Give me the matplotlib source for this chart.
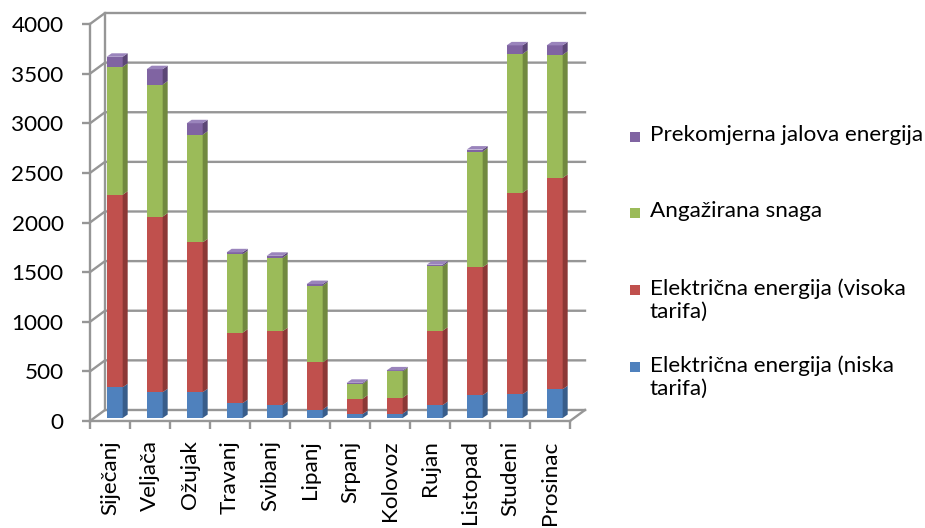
import numpy as np
import matplotlib
matplotlib.use('Agg')
import matplotlib.pyplot as plt
from matplotlib.patches import Polygon, Rectangle

plt.rcParams['font.family'] = ['Lato', 'DejaVu Sans']

months = ['Siječanj', 'Veljača', 'Ožujak', 'Travanj', 'Svibanj', 'Lipanj',
          'Srpanj', 'Kolovoz', 'Rujan', 'Listopad', 'Studeni', 'Prosinac']
niska = [310, 260, 260, 150, 130, 85, 40, 45, 130, 230, 240, 290]
visoka = [1940, 1770, 1510, 710, 745, 475, 155, 160, 750, 1290, 2030, 2130]
snaga = [1290, 1330, 1085, 790, 740, 775, 150, 265, 650, 1165, 1400, 1240]
jalova = [100, 155, 115, 20, 20, 15, 10, 10, 15, 20, 85, 95]

series = [
    ('Električna energija (niska\ntarifa)', niska, '#4F81BD', '#385D8A', '#6F9BD1'),
    ('Električna energija (visoka\ntarifa)', visoka, '#C0504D', '#8C3836', '#D07572'),
    ('Angažirana snaga', snaga, '#9BBB59', '#71893F', '#B3CD7E'),
    ('Prekomjerna jalova energija', jalova, '#8064A2', '#5C4776', '#9A84BC'),
]
yticks = np.arange(0, 4001, 500)

# oblique depth of the chart box and of each column (data units)
DX, DY = 0.375, 111
BAR_W, BAR_OX, BAR_Y0 = 0.4, 0.117, 30
BDX, BDY = 0.125, 35
grid_c = '#969696'
FS = 16.2

fig = plt.figure(figsize=(9.25, 5.28), dpi=100)
ax = fig.add_axes([90 / 925, 107 / 528, 495 / 925, 408 / 528])
n = len(months)
ax.set_xlim(-0.5, n - 0.5 + DX)
ax.set_ylim(0, 4000 + DY)

# back wall, left wall and floor lines
for v in yticks:
    ax.plot([-0.5, -0.5 + DX, n - 0.5 + DX], [v, v + DY, v + DY],
            color=grid_c, lw=1.7, zorder=1, clip_on=False)
ax.plot([-0.5 + DX, -0.5 + DX], [DY, 4000 + DY], color=grid_c, lw=1.7, zorder=1, clip_on=False)
ax.plot([n - 0.5, n - 0.5 + DX], [0, DY], color=grid_c, lw=1.7, zorder=1, clip_on=False)

# stacked 3d-looking columns
x = np.arange(n)
bottoms = np.zeros(n)
for k, (name, vals, front, side, top) in enumerate(series):
    vals = np.array(vals, dtype=float)
    for i in range(n):
        xl = x[i] + BAR_OX - BAR_W / 2
        xr = xl + BAR_W
        b = BAR_Y0 + bottoms[i]
        t = b + vals[i]
        ax.add_patch(Rectangle((xl, b), BAR_W, vals[i], facecolor=front, edgecolor='none', zorder=3))
        ax.add_patch(Polygon([(xr, b), (xr + BDX, b + BDY), (xr + BDX, t + BDY), (xr, t)],
                             closed=True, facecolor=side, edgecolor='none', zorder=3))
        if k == len(series) - 1:
            ax.add_patch(Polygon([(xl, t), (xl + BDX, t + BDY), (xr + BDX, t + BDY), (xr, t)],
                                 closed=True, facecolor=top, edgecolor='none', zorder=3))
    bottoms += vals

# front axes
for s in ['top', 'right']:
    ax.spines[s].set_visible(False)
ax.spines['left'].set_bounds(0, 4000)
ax.spines['bottom'].set_bounds(-0.5, n - 0.5)
for s in ['left', 'bottom']:
    ax.spines[s].set_color(grid_c)
    ax.spines[s].set_linewidth(1.7)
    ax.spines[s].set_zorder(2)

ax.set_yticks(yticks)
ax.set_yticklabels([str(v) for v in yticks], fontsize=FS)
ax.tick_params(axis='y', length=6, width=1.7, color=grid_c, pad=13)

ax.set_xticks(x)
ax.set_xticklabels(months, rotation=90, fontsize=FS, va='top', ha='center')
ax.set_xticks(np.arange(-0.5, n, 1), minor=True)
ax.tick_params(axis='x', which='major', length=0, pad=14)
ax.tick_params(axis='x', which='minor', length=6, width=1.7, color=grid_c)

# legend, top entry first
leg_y = [137, 213, 290, 367]
for (name, vals, front, side, top), yp in zip(series[::-1], leg_y):
    fig.patches.append(Rectangle((630 / 925, (528 - yp - 5) / 528), 10 / 925, 10 / 528,
                                 facecolor=front, edgecolor='none', transform=fig.transFigure))
    fig.text(650 / 925, (528 - yp + 12) / 528, name, fontsize=FS, va='top', ha='left',
             linespacing=1.2)

fig.savefig('out.png', dpi=100)
